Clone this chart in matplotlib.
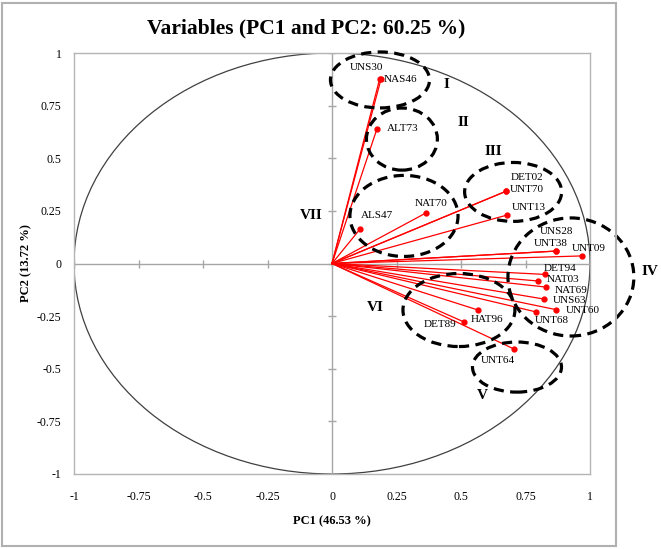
import matplotlib
matplotlib.use("Agg")
import matplotlib.pyplot as plt
from matplotlib.patches import Ellipse, Rectangle

plt.rcParams['font.family'] = ['Liberation Serif', 'DejaVu Serif']

# variable loadings on PC1 / PC2
names = ["UNS30", "NAS46", "ALT73", "ALS47", "NAT70", "DET02", "UNT70", "UNT13",
         "UNS28", "UNT38", "UNT09", "DET94", "NAT03", "NAT69", "UNS63", "UNT60",
         "UNT68", "HAT96", "DET89", "UNT64"]
pc1 = [0.185, 0.190, 0.174, 0.109, 0.364, 0.676, 0.676, 0.678,
       0.868, 0.868, 0.969, 0.827, 0.798, 0.829, 0.822, 0.868,
       0.791, 0.566, 0.512, 0.705]
pc2 = [0.878, 0.876, 0.639, 0.164, 0.240, 0.344, 0.344, 0.230,
       0.059, 0.059, 0.036, -0.052, -0.083, -0.112, -0.169, -0.219,
       -0.230, -0.221, -0.278, -0.406]

# groups drawn as dashed ellipses (centre, width, height in loading units)
groups = ["I", "II", "III", "IV", "V", "VI", "VII"]
grp_cx = [0.186, 0.271, 0.702, 0.926, 0.717, 0.492, 0.279]
grp_cy = [0.872, 0.591, 0.340, -0.064, -0.492, -0.221, 0.226]
grp_w = [0.384, 0.275, 0.376, 0.488, 0.345, 0.434, 0.419]
grp_h = [0.266, 0.295, 0.280, 0.561, 0.238, 0.347, 0.385]
grp_lx = [0.442, 0.508, 0.624, 1.233, 0.581, 0.167, -0.081]
grp_ly = [0.848, 0.672, 0.534, -0.036, -0.629, -0.211, 0.230]

ticks = [-1, -0.75, -0.5, -0.25, 0, 0.25, 0.5, 0.75, 1]
tick_labels = ["-1", "-0.75", "-0.5", "-0.25", "0", "0.25", "0.5", "0.75", "1"]

# label placement (pixel offsets, alignment)
label_pos = {
    "UNS30": (-13, 11, "center"), "NAS46": (3, 0, "left"), "ALT73": (10, 0, "left"),
    "ALS47": (17, 13, "center"), "NAT70": (5, 9, "center"), "DET02": (4, 14, "left"),
    "UNT70": (3, 2, "left"), "UNT13": (5, 8, "left"), "UNS28": (1, 20, "center"),
    "UNT38": (-5, 8, "center"), "UNT09": (7, 7, "center"), "DET94": (15, 6, "center"),
    "NAT03": (9, 1, "left"), "NAT69": (9, -3, "left"), "UNS63": (9, -1, "left"),
    "UNT60": (10, -1, "left"), "UNT68": (-1, -9, "left"), "HAT96": (-7, -9, "left"),
    "DET89": (-8, -2, "right"), "UNT64": (1, -12, "right"),
}

fig = plt.figure(figsize=(6.61, 5.49), dpi=100)
ax = fig.add_axes([74 / 661, 75 / 549, 516 / 661, 421 / 549])
ax.set_xlim(-1, 1)
ax.set_ylim(-1, 1)

for s in ax.spines.values():
    s.set_color("#b4b4b4")
    s.set_linewidth(1.0)

ax.set_xticks(ticks)
ax.set_xticklabels(tick_labels)
ax.set_yticks(ticks)
ax.set_yticklabels(tick_labels)
ax.tick_params(axis="x", length=0, pad=12, labelsize=8.5)
ax.tick_params(axis="y", length=0, pad=9, labelsize=8.5)

ax.set_xlabel("PC1 (46.53 %)", fontsize=9, fontweight="bold", labelpad=9)
ax.set_ylabel("PC2 (13.72 %)", fontsize=9, fontweight="bold", labelpad=3)
ax.set_title("Variables (PC1 and PC2: 60.25 %)", fontsize=15.5, fontweight="bold", pad=14, x=0.45)

# correlation circle
circle = Ellipse((0, 0), 2, 2, fill=False, edgecolor="#404040", linewidth=0.9)
ax.add_patch(circle)

# cross axes with small tick marks
ax.axhline(0, color="#a6a6a6", linewidth=1.0, zorder=1)
ax.axvline(0, color="#a6a6a6", linewidth=1.0, zorder=1)
ax.plot(ticks, [0] * len(ticks), linestyle="none", marker="|", markersize=6,
        color="#a6a6a6", markeredgewidth=1.0, zorder=1)
ax.plot([0] * len(ticks), ticks, linestyle="none", marker="_", markersize=6,
        color="#a6a6a6", markeredgewidth=1.0, zorder=1)

# loading vectors
for x, y in zip(pc1, pc2):
    ax.plot([0, x], [0, y], color="#ff0000", linewidth=0.9, zorder=3)
ax.plot(pc1, pc2, linestyle="none", marker="o", markersize=3.5, color="#ff0000", zorder=4)

for n, x, y in zip(names, pc1, pc2):
    dx, dy, ha = label_pos[n]
    ax.annotate(n, (x, y), xytext=(dx, dy), textcoords="offset pixels",
                ha=ha, va="center", fontsize=8, zorder=5)

# dashed group ellipses
for g, cx, cy, w, h, lx, ly in zip(groups, grp_cx, grp_cy, grp_w, grp_h, grp_lx, grp_ly):
    e = Ellipse((cx, cy), w, h, fill=False, edgecolor="black", linewidth=2.3,
                linestyle=(0, (3.2, 2.0)), clip_on=False, zorder=6)
    ax.add_patch(e)
    ax.text(lx, ly, g, ha="center", va="center", fontsize=11, fontweight="bold",
            clip_on=False)

# outer picture border
fig.add_artist(Rectangle((2 / 661, 3 / 549), 614 / 661, 543 / 549, fill=False,
                         edgecolor="#b0b0b0", linewidth=1.5, transform=fig.transFigure))

fig.savefig("out.png", dpi=100)
